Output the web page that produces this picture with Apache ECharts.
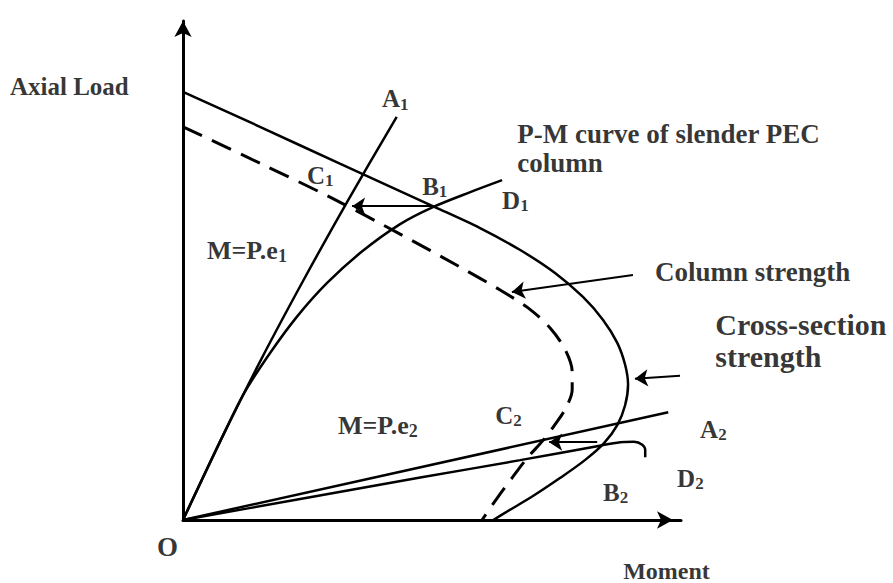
<!DOCTYPE html>
<html>
<head>
<meta charset="utf-8">
<script src="https://cdn.jsdelivr.net/npm/echarts@6/dist/echarts.min.js"></script>
<style>
  html, body { margin: 0; padding: 0; background: #fff; }
  #chart { width: 893px; height: 583px; }
</style>
</head>
<body>
<div id="chart"></div>
<script>
// Interaction diagram of a slender PEC column.
// Moment (x) and axial load (y) on a normalised scale (0-100 for the envelopes).

// Cross-section strength envelope
const crossSection = [
  [0, 85.8], [15.7, 78.8], [32.0, 71.4], [51.4, 62.7], [60.6, 58.5],
  [68.8, 54.1], [75.9, 49.5], [81.6, 44.7], [85.7, 40.1], [88.6, 35.5],
  [90.2, 31.1], [90.8, 27.1], [90.2, 23.0], [88.6, 19.0], [85.9, 15.4],
  [82.0, 12.0], [76.9, 8.4], [71.4, 4.8], [66.3, 1.8], [63.3, 0]
];

// Column strength envelope (dashed)
const columnStrength = [
  [0, 78.8], [15.7, 71.5], [30.0, 64.7], [44.3, 57.3], [56.5, 50.7],
  [64.7, 46.1], [70.4, 42.5], [74.9, 38.5], [78.0, 34.1], [79.4, 29.7],
  [79.4, 26.1], [78.2, 22.6], [76.1, 19.4], [73.5, 16.0], [70.2, 12.4],
  [67.1, 8.4], [64.1, 4.4], [61.0, 0]
];

// First-order load path M = P.e1 (O to A1)
const pathE1 = [
  [0, 0], [7.7, 16.0], [15.9, 32.1], [24.6, 48.1], [33.7, 64.1], [43.6, 80.8]
];

// Second-order response for e1 (O through B1 to D1)
const slenderE1 = [
  [0, 0], [7.7, 16.0], [12.4, 25.3], [17.8, 33.5], [23.3, 40.8],
  [29.4, 47.5], [36.5, 53.8], [44.3, 59.3], [51.0, 62.7], [58.6, 65.7],
  [65.1, 68.1]
];

// First-order load path M = P.e2 (O to A2)
const pathE2 = [[0, 0], [99.0, 21.6]];

// Second-order response for e2 (O through B2 to D2)
const slenderE2 = [
  [0, 0], [23.9, 4.2], [48.4, 8.5], [68.8, 12.0], [84.5, 14.8],
  [89.2, 15.6], [92.0, 15.7], [93.7, 15.1], [94.3, 14.0], [94.3, 12.6]
];

// Pointer arrows: [from, to]
const arrowB1C1 = [[51.0, 62.9], [34.5, 62.9]];
const arrowB2C2 = [[84.5, 15.6], [74.7, 15.6]];
const arrowColumn = [[91.8, 49.1], [67.1, 45.7]];
const arrowSection = [[101.4, 28.9], [92.2, 28.3]];

// Axis extents
const momentMax = 101.6;
const loadMax = 100;

// Text annotations
const labelTexts = {
  axial: 'Axial Load', origin: 'O', moment: 'Moment',
  A1: ['A', '1'], B1: ['B', '1'], C1: ['C', '1'], D1: ['D', '1'],
  A2: ['A', '2'], B2: ['B', '2'], C2: ['C', '2'], D2: ['D', '2'],
  e1: ['M=P.e', '1'], e2: ['M=P.e', '2'],
  pm: 'P-M curve of slender PEC\ncolumn',
  column: 'Column strength',
  section: 'Cross-section\nstrength'
};

const FONT = '"Liberation Serif", "Times New Roman", Times, serif';

// anchor points (left edge, vertical middle) in axis units
const anchors = {
  axial: [-35.3, 86.8], origin: [-5.3, -5.4], moment: [89.8, -10.2],
  A1: [40.6, 84.4], C1: [25.3, 69.1], B1: [48.8, 66.9], D1: [65.1, 64.1],
  e1: [4.9, 54.1], e2: [31.6, 19.0],
  C2: [63.7, 21.0], A2: [105.5, 18.2], D2: [100.8, 8.4], B2: [85.7, 5.6],
  pm: [68.2, 74.4], column: [96.3, 49.7], section: [108.6, 35.9]
};

const sizes = {
  axial: 25, origin: 27, moment: 24,
  A1: 25, B1: 25, C1: 25, D1: 25, A2: 25, B2: 25, C2: 25, D2: 25,
  e1: 26, e2: 26, pm: 27, column: 27, section: 30
};

function makeLabel(key) {
  const t = labelTexts[key];
  const fs = sizes[key];
  const base = { show: true, position: 'right', distance: 0, color: '#000',
    fontFamily: FONT, fontWeight: 'bold', fontSize: fs, align: 'left', verticalAlign: 'middle' };
  if (Array.isArray(t)) {
    base.formatter = '{m|' + t[0] + '}{s|' + t[1] + '}';
    base.rich = {
      m: { fontSize: fs, lineHeight: fs + 3, fontWeight: 'bold', fontFamily: FONT, color: '#000' },
      s: { fontSize: Math.round(fs * 0.68), lineHeight: Math.round(fs * 0.8), verticalAlign: 'bottom',
           fontWeight: 'bold', fontFamily: FONT, color: '#000' }
    };
  } else {
    base.formatter = t;
    base.lineHeight = key === 'section' ? 32 : (key === 'pm' ? 29 : fs + 3);
  }
  return { value: anchors[key], label: base };
}

const chart = echarts.init(document.getElementById('chart'), null, { renderer: 'svg' });

function curve(name, data, smooth, extra) {
  return Object.assign({
    type: 'line', name: name, data: data, symbol: 'none', smooth: smooth,
    clip: false, silent: true, animation: false, lineStyle: { color: '#000', width: 2.5 }
  }, extra || {});
}

const arrows = [arrowB1C1, arrowB2C2, arrowColumn, arrowSection];

function axis(max, arrowOffset) {
  return {
    type: 'value', min: 0, max: max,
    axisLine: { show: true, onZero: false, symbol: ['none', 'arrow'], symbolSize: [13, 16],
                symbolOffset: [0, arrowOffset], lineStyle: { color: '#000', width: 3 } },
    axisTick: { show: false }, axisLabel: { show: false }, splitLine: { show: false }
  };
}

chart.setOption({
  backgroundColor: '#fff',
  animation: false,
  grid: { left: 183, right: 212, top: 21, bottom: 63, outerBoundsMode: 'none' },
  xAxis: axis(momentMax, -8),
  yAxis: axis(loadMax, 0),
  series: [
    curve('Cross-section strength', crossSection, 0.3),
    curve('Column strength', columnStrength, 0.3,
      { lineStyle: { color: '#000', width: 3, type: [21, 11] } }),
    curve('M=P.e1', pathE1, 0.3),
    curve('Slender e1', slenderE1, 0.3),
    curve('M=P.e2', pathE2, false, {
      markLine: {
        silent: true, animation: false,
        symbol: ['none', 'arrow'], symbolSize: 13,
        label: { show: false },
        itemStyle: { color: '#000' },
        lineStyle: { color: '#000', width: 2, type: 'solid' },
        data: arrows.map(a => [{ coord: a[0] }, { coord: a[1] }])
      }
    }),
    curve('Slender e2', slenderE2, 0.3),
    {
      type: 'scatter', name: 'labels', silent: true, clip: false, animation: false,
      symbolSize: 0, itemStyle: { color: 'transparent' },
      data: Object.keys(anchors).map(makeLabel)
    }
  ]
});
</script>
</body>
</html>
